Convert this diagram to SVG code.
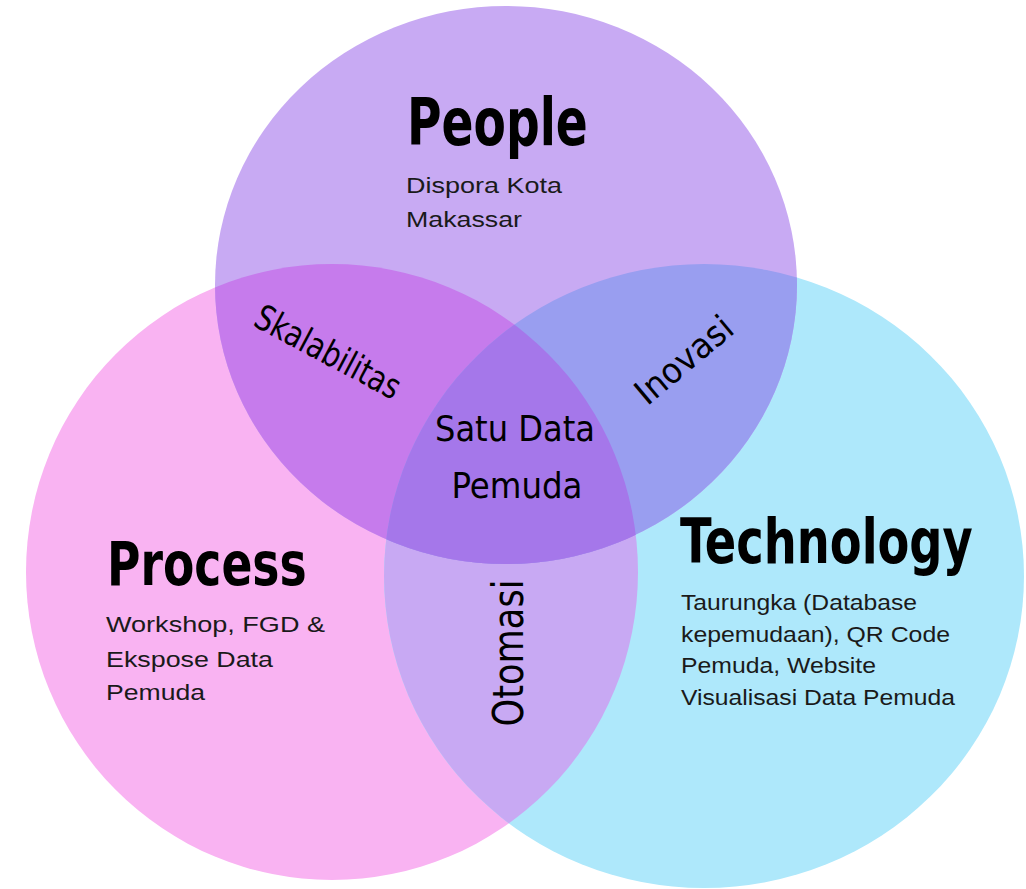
<svg xmlns="http://www.w3.org/2000/svg" width="1026" height="889" viewBox="0 0 1026 889">
  <style>
    .title { font-family: "DejaVu Sans Condensed", "DejaVu Sans", sans-serif; font-weight: bold; fill: #000000; }
    .desc { font-family: "Liberation Sans", Arial, sans-serif; font-size: 22px; fill: #1a1a1a; }
    .lbl { font-family: "DejaVu Sans Condensed", "DejaVu Sans", sans-serif; font-size: 35px; fill: #000000; }
    .lbl2 { font-family: "DejaVu Sans", sans-serif; font-size: 42px; fill: #000000; }
  </style>
  <defs>
    <ellipse id="cPeople" cx="506" cy="285" rx="291" ry="279"/>
    <ellipse id="cProcess" cx="332" cy="572" rx="306" ry="308"/>
    <ellipse id="cTech" cx="704" cy="576" rx="320" ry="312"/>
    <clipPath id="clipProcess"><use href="#cProcess"/></clipPath>
    <clipPath id="clipTech"><use href="#cTech"/></clipPath>
  </defs>
  <rect width="1026" height="889" fill="#ffffff"/>

  <g id="process">
    <use href="#cProcess" fill="#f9b3f2"/>
  </g>
  <g id="technology">
    <use href="#cTech" fill="#aee8fb"/>
  </g>
  <g id="people">
    <use href="#cPeople" fill="#c8aaf3"/>
  </g>
  <g id="otomasi-region">
    <g clip-path="url(#clipProcess)"><use href="#cTech" fill="#c8a9f3"/></g>
  </g>
  <g id="skalabilitas-region">
    <g clip-path="url(#clipProcess)"><use href="#cPeople" fill="#c67bec"/></g>
  </g>
  <g id="inovasi-region">
    <g clip-path="url(#clipTech)"><use href="#cPeople" fill="#999ef0"/></g>
  </g>
  <g id="center-region">
    <g clip-path="url(#clipTech)"><g clip-path="url(#clipProcess)"><use href="#cPeople" fill="#a577ea"/></g></g>
  </g>

  <g id="connectors"/>

  <g id="people-text">
    <text class="title" transform="translate(407,145) scale(0.8,1)" x="0" y="0" font-size="66" textLength="226" lengthAdjust="spacingAndGlyphs">People</text>
    <text class="desc" x="406" y="193" textLength="156" lengthAdjust="spacingAndGlyphs">Dispora Kota</text>
    <text class="desc" x="406" y="227" textLength="116" lengthAdjust="spacingAndGlyphs">Makassar</text>
  </g>
  <g id="process-text">
    <text class="title" transform="translate(107,585) scale(0.85,1)" x="0" y="0" font-size="60" textLength="235" lengthAdjust="spacingAndGlyphs">Process</text>
    <text class="desc" x="106" y="632" textLength="219" lengthAdjust="spacingAndGlyphs">Workshop, FGD &amp;</text>
    <text class="desc" x="106" y="667" textLength="167" lengthAdjust="spacingAndGlyphs">Ekspose Data</text>
    <text class="desc" x="106" y="700" textLength="99" lengthAdjust="spacingAndGlyphs">Pemuda</text>
  </g>
  <g id="technology-text">
    <text class="title" transform="translate(680,563) scale(0.8,1)" x="0" y="0" font-size="63" textLength="366" lengthAdjust="spacingAndGlyphs">Technology</text>
    <text class="desc" x="681" y="610" textLength="236" lengthAdjust="spacingAndGlyphs">Taurungka (Database</text>
    <text class="desc" x="681" y="642" textLength="269" lengthAdjust="spacingAndGlyphs">kepemudaan), QR Code</text>
    <text class="desc" x="681" y="673" textLength="195" lengthAdjust="spacingAndGlyphs">Pemuda, Website</text>
    <text class="desc" x="681" y="705" textLength="274" lengthAdjust="spacingAndGlyphs">Visualisasi Data Pemuda</text>
  </g>
  <g id="skalabilitas">
    <text class="lbl" transform="translate(328,352) rotate(28)" x="0" y="12" text-anchor="middle" textLength="160" lengthAdjust="spacingAndGlyphs">Skalabilitas</text>
  </g>
  <g id="inovasi">
    <text class="lbl" transform="translate(684,360) rotate(-40)" x="0" y="12" text-anchor="middle" textLength="116" lengthAdjust="spacingAndGlyphs">Inovasi</text>
  </g>
  <g id="satu-data-pemuda">
    <text class="lbl" x="515" y="441" font-size="40" text-anchor="middle" textLength="160" lengthAdjust="spacingAndGlyphs">Satu Data</text>
    <text class="lbl" x="517" y="498" font-size="40" text-anchor="middle" textLength="131" lengthAdjust="spacingAndGlyphs">Pemuda</text>
  </g>
  <g id="otomasi">
    <text class="lbl2" transform="translate(523,653) rotate(-90)" x="0" y="0" text-anchor="middle" textLength="147" lengthAdjust="spacingAndGlyphs">Otomasi</text>
  </g>
</svg>
